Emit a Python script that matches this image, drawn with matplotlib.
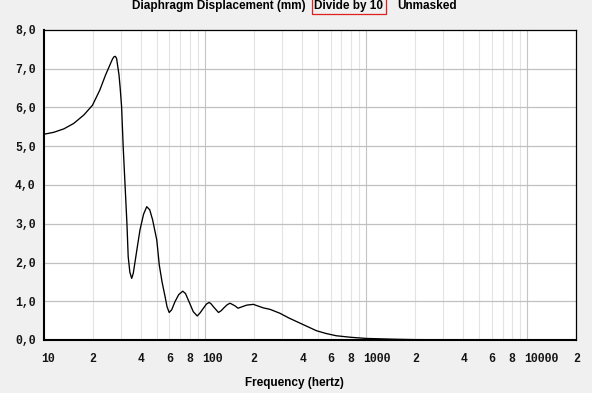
import matplotlib
matplotlib.use("Agg")
import matplotlib.pyplot as plt
from matplotlib.ticker import FixedLocator, NullFormatter, NullLocator
from matplotlib.transforms import ScaledTranslation

# ---- data ----
freq = [10, 11.5, 13.3, 15.3, 17.7, 20.0, 22.2, 24.1, 25.9, 26.6, 27.2, 27.7,
        28.2, 28.9, 29.2, 29.7, 30.3, 31.0, 31.8, 32.7, 33.3, 34.1, 35.0, 35.8,
        36.6, 38.0, 39.4, 41.5, 43.4, 45.3, 47.2, 50.1, 51.9, 54.0, 56.4, 58.0,
        59.8, 62.0, 65.0, 68.5, 72.6, 75.5, 78.6, 84.4, 89.3, 93.0, 97.5, 102,
        106, 109, 112.4, 121, 126, 130.7, 137, 142.6, 153.3, 160, 170, 181, 190,
        199, 229, 253, 291, 330, 390, 440, 490, 560, 650, 800, 1000, 1500, 2000,
        5000, 10000, 20000]
disp = [5.31, 5.36, 5.45, 5.59, 5.81, 6.06, 6.45, 6.84, 7.14, 7.25, 7.31, 7.32,
        7.27, 6.97, 6.84, 6.50, 6.02, 4.99, 4.04, 3.01, 2.15, 1.75, 1.59, 1.72,
        1.98, 2.42, 2.84, 3.25, 3.44, 3.36, 3.10, 2.58, 1.94, 1.50, 1.12, 0.86,
        0.71, 0.78, 0.99, 1.17, 1.26, 1.20, 1.03, 0.73, 0.62, 0.70, 0.82, 0.93,
        0.97, 0.93, 0.86, 0.71, 0.76, 0.83, 0.91, 0.95, 0.88, 0.82, 0.86, 0.90,
        0.91, 0.92, 0.83, 0.79, 0.69, 0.57, 0.43, 0.33, 0.24, 0.17, 0.11, 0.07,
        0.04, 0.02, 0.01, 0.003, 0.001, 0.0]

y_ticks = [0, 1, 2, 3, 4, 5, 6, 7, 8]
y_labels = ["0,0", "1,0", "2,0", "3,0", "4,0", "5,0", "6,0", "7,0", "8,0"]
x_ticks = [10, 20, 40, 60, 80, 100, 200, 400, 600, 800, 1000, 2000, 4000,
           6000, 8000, 10000, 20000]
x_labels = ["10", "2", "4", "6", "8", "100", "2", "4", "6", "8", "1000", "2",
            "4", "6", "8", "10000", "2"]
major_grid = [100, 1000, 10000]
minor_grid = [20, 30, 40, 50, 60, 70, 80, 90, 200, 300, 400, 500, 600, 700,
              800, 900, 2000, 3000, 4000, 5000, 6000, 7000, 8000, 9000]

W, H = 592, 393
fig = plt.figure(figsize=(W / 100, H / 100), dpi=100, facecolor="#F0F0F0")
ax = fig.add_axes([44 / W, (H - 340) / H, (576 - 44) / W, (340 - 30) / H])
ax.set_facecolor("white")
ax.set_xscale("log")
ax.set_xlim(10, 20000)
ax.set_ylim(0, 8)

for g in minor_grid:
    ax.axvline(g, color="#E3E3E3", lw=0.8, zorder=1)
for g in major_grid:
    ax.axvline(g, color="#C4C4C4", lw=0.8, zorder=1)
for t in y_ticks[1:-1]:
    ax.axhline(t, color="#C0C0C0", lw=0.9, zorder=1)

ax.plot(freq, disp, color="black", lw=0.95, zorder=3, solid_joinstyle="round")

tick_font = dict(family="Liberation Mono", weight="bold", size=8.3)
ax.xaxis.set_major_locator(FixedLocator(x_ticks))
ax.xaxis.set_minor_locator(NullLocator())
ax.xaxis.set_minor_formatter(NullFormatter())
ax.set_xticklabels(x_labels, **tick_font, color="#141414")
ax.set_yticks(y_ticks)
ax.set_yticklabels(y_labels, **tick_font, color="#141414")
ax.tick_params(axis="both", length=0)
ax.tick_params(axis="x", pad=9)
ax.tick_params(axis="y", pad=6)

shift = ScaledTranslation(-3 / 100, 0, fig.dpi_scale_trans)
for lab in ax.get_xticklabels():
    lab.set_horizontalalignment("left")
    lab.set_transform(lab.get_transform() + shift)

for s in ["left", "bottom"]:
    ax.spines[s].set_linewidth(1.5)
for s in ["top", "right"]:
    ax.spines[s].set_linewidth(0.9)
for s in ax.spines.values():
    s.set_color("black")
    s.set_zorder(5)

title_font = dict(family="Liberation Sans", weight="bold", size=8.5, color="black")
fig.text(132 / W, 1 - 6 / H, "Diaphragm Displacement (mm)", ha="left", va="center", **title_font)
fig.text(349 / W, 1 - 6 / H, "Divide by 10", ha="center", va="center",
         bbox=dict(boxstyle="square,pad=0.2", facecolor="none", edgecolor="#E02020", lw=0.9),
         **title_font)
fig.text(397 / W, 1 - 6 / H, "Unmasked", ha="left", va="center", **title_font)
fig.text(294 / W, 1 - 383 / H, "Frequency (hertz)", ha="center", va="center", **title_font)

fig.savefig("out.png", dpi=100, facecolor=fig.get_facecolor())
